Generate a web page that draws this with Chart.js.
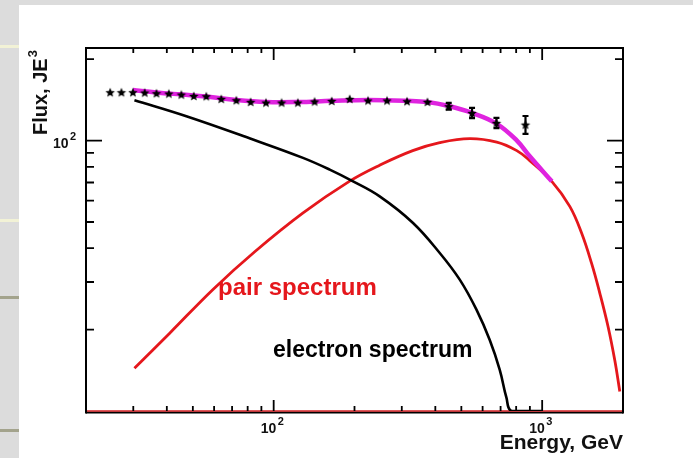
<!DOCTYPE html>
<html lang="en">
<head>
  <meta charset="UTF-8">
  <title>Electron and pair spectra</title>
  <style>
    body { margin: 0; width: 693px; height: 458px; overflow: hidden; position: relative; background: #dcdcdc; }
    .panel { position: absolute; left: 19px; top: 5px; right: 0; bottom: 0; background: #fff; }
    .rule { position: absolute; left: 0; width: 19px; height: 3px; }
    #chart { position: absolute; left: 0; top: 0; }
  </style>
</head>
<body>
  <div class="panel"></div>
  <div class="rule" style="top:45px; background:#f2f2d6"></div>
  <div class="rule" style="top:219px; background:#f2f2d6"></div>
  <div class="rule" style="top:296px; background:#a3a38c"></div>
  <div class="rule" style="top:429px; background:#a3a38c"></div>
  <canvas id="chart" width="693" height="458"></canvas>

  <script src="https://cdn.jsdelivr.net/npm/chart.js"></script>
  <script>
    // measured flux points (E in GeV, flux J*E^3)
    const starEnergy = [24.6, 27.1, 29.9, 33.1, 36.6, 40.7, 45.3, 50.4, 56.1, 63.8, 72.6, 82.1, 93.6,
                        107, 123, 142, 164.5, 192, 224.6, 264.3, 313.8, 374, 448.7, 548, 675.6, 866.7];
    const starFlux = [151.0, 151.0, 151.0, 150.6, 149.7, 149.3, 148.0, 146.3, 145.9, 142.7, 141.0, 139.1, 138.3,
                      138.3, 138.3, 139.5, 140.2, 142.7, 140.7, 140.7, 139.8, 139.1, 134.0, 126.6, 116.3, 114.6];
    const starErr = [0, 0, 0, 0, 0, 0, 0, 0, 0, 0, 0, 0, 0,
                     0, 0, 0, 0, 0, 0, 0, 0, 0, 3.8, 5.5, 5.1, 8.7];

    // electron spectrum
    const electronE = [30.3, 47.3, 83.7, 128.6, 161.7, 197.5, 248.2, 330.4, 415.5, 493.2, 569.2, 637.9, 695, 736, 768.7, 1000];
    const electronF = [141.0, 123.0, 100.9, 86.3, 78.1, 70.7, 62.2, 49.6, 38.4, 30.6, 23.7, 18.3, 14.2, 11.2, 10, 10];

    // pair spectrum
    const pairE = [30.3, 41.0, 59.3, 85.0, 128.3, 191.9, 248.2, 329.6, 415.5, 537.5, 677.3,
                   804.3, 899, 1086, 1267, 1401, 1527, 1639, 1760, 1864, 1946];
    const pairF = [14.4, 19.4, 28.1, 38.8, 53.9, 70.8, 81.1, 91.8, 98.3, 101.7, 98.7,
                   91.8, 84.3, 70.7, 57.1, 45.6, 35.2, 27.3, 20.5, 15.4, 11.8];

    // sum of both components
    const totalE = [29.9, 36.6, 45.3, 56.1, 72.6, 93.6, 123, 164.5, 224.6, 313.8, 374, 448.7, 548, 675.6, 802, 899, 1086];
    const totalF = [153.8, 150.6, 148.0, 145.5, 141.3, 138.9, 138.9, 140.3, 141.3, 140.3, 138.9, 134.2, 126.6, 115.6, 100.4, 87.5, 70.7];

    // axes
    const xRange = [20, 2000];
    const yRange = [10, 220];
    const xMajorTicks = [100, 1000];
    const xMinorTicks = [30, 40, 50, 60, 70, 80, 90, 200, 300, 400, 500, 600, 700, 800, 900];
    const yMajorTicks = [100];
    const yMinorTicks = [20, 30, 40, 50, 60, 70, 80, 90, 200];

    const FONT = '"Liberation Sans", Arial, sans-serif';
    const RED = '#e5171c';

    function pts(xs, ys) {
      return xs.map((x, i) => ({ x: x, y: ys[i] }));
    }

    // filled five-point star used as the marker
    function makeStar(r) {
      const c = document.createElement('canvas');
      const s = Math.ceil(r * 2 + 2);
      c.width = c.height = s;
      const g = c.getContext('2d');
      g.beginPath();
      for (let i = 0; i < 10; i++) {
        const rad = i % 2 ? r * 0.45 : r;
        const a = -Math.PI / 2 + i * Math.PI / 5;
        g.lineTo(s / 2 + rad * Math.cos(a), s / 2 + 0.5 + rad * Math.sin(a));
      }
      g.closePath();
      g.fillStyle = '#000';
      g.fill();
      return c;
    }

    function pow10Label(ctx, v, x, y, size) {
      const exp = String(Math.round(Math.log10(v)));
      ctx.font = 'bold ' + size + 'px ' + FONT;
      ctx.fillText('10', x, y);
      const w = ctx.measureText('10').width;
      ctx.font = 'bold 11px ' + FONT;
      ctx.fillText(exp, x + w + 1.5, y - 8);
    }

    const framePlugin = {
      id: 'frame',
      beforeDatasetsDraw(chart) {
        const { ctx, chartArea: a, scales } = chart;
        const yb = scales.y.getPixelForValue(yRange[0]);
        ctx.save();
        ctx.strokeStyle = '#000';
        ctx.lineWidth = 2;
        ctx.beginPath();
        ctx.moveTo(a.left, yb + 1.4);
        ctx.lineTo(a.right, yb + 1.4);
        ctx.stroke();
        ctx.strokeStyle = '#d42025';
        ctx.lineWidth = 1.6;
        ctx.beginPath();
        ctx.moveTo(a.left, yb);
        ctx.lineTo(a.right, yb);
        ctx.stroke();
        ctx.restore();
      },
      afterDatasetsDraw(chart) {
        const { ctx, chartArea: a, scales } = chart;
        const xs = scales.x, ys = scales.y;
        ctx.save();

        // error bars
        ctx.strokeStyle = '#000';
        ctx.lineWidth = 2.2;
        starEnergy.forEach((e, i) => {
          if (!starErr[i]) return;
          const px = xs.getPixelForValue(e);
          const top = ys.getPixelForValue(starFlux[i] + starErr[i]);
          const bot = ys.getPixelForValue(starFlux[i] - starErr[i]);
          ctx.beginPath();
          ctx.moveTo(px, top); ctx.lineTo(px, bot);
          ctx.moveTo(px - 3, top); ctx.lineTo(px + 3, top);
          ctx.moveTo(px - 3, bot); ctx.lineTo(px + 3, bot);
          ctx.stroke();
        });

        // frame
        ctx.lineWidth = 2;
        ctx.beginPath();
        ctx.moveTo(a.left, a.bottom + 2.4);
        ctx.lineTo(a.left, a.top);
        ctx.lineTo(a.right, a.top);
        ctx.lineTo(a.right, a.bottom + 2.4);
        ctx.stroke();

        // ticks on all four sides, pointing inward
        ctx.lineWidth = 1.8;
        ctx.beginPath();
        xMajorTicks.concat(xMinorTicks).forEach(v => {
          const major = xMajorTicks.includes(v);
          const px = xs.getPixelForValue(v);
          ctx.moveTo(px, a.bottom); ctx.lineTo(px, a.bottom - (major ? 11 : 5));
          ctx.moveTo(px, a.top); ctx.lineTo(px, a.top + (major ? 12 : 5));
        });
        yMajorTicks.concat(yMinorTicks).forEach(v => {
          const major = yMajorTicks.includes(v);
          const py = ys.getPixelForValue(v);
          ctx.moveTo(a.left, py); ctx.lineTo(a.left + (major ? 16 : 8), py);
          ctx.moveTo(a.right, py); ctx.lineTo(a.right - (major ? 16 : 8), py);
        });
        ctx.stroke();

        // tick labels
        ctx.fillStyle = '#111';
        ctx.textAlign = 'left';
        ctx.textBaseline = 'alphabetic';
        xMajorTicks.forEach(v => {
          pow10Label(ctx, v, xs.getPixelForValue(v) - 13, 433, 14);
        });
        yMajorTicks.forEach(v => {
          pow10Label(ctx, v, 53, ys.getPixelForValue(v) + 7, 14);
        });

        // axis titles
        ctx.font = 'bold 21px ' + FONT;
        ctx.textAlign = 'right';
        ctx.fillText('Energy, GeV', a.right, 449);

        ctx.save();
        ctx.translate(47, 135);
        ctx.rotate(-Math.PI / 2);
        ctx.textAlign = 'left';
        ctx.font = 'bold 20px ' + FONT;
        ctx.fillText('Flux, JE', 0, 0);
        const w = ctx.measureText('Flux, JE').width;
        ctx.font = 'bold 13px ' + FONT;
        ctx.fillText('3', w + 1, -10);
        ctx.restore();

        // curve labels
        ctx.textAlign = 'left';
        ctx.font = 'bold 24px ' + FONT;
        ctx.fillStyle = RED;
        ctx.fillText('pair spectrum', 218, 295);
        ctx.font = 'bold 23px ' + FONT;
        ctx.fillStyle = '#000';
        ctx.fillText('electron spectrum', 273, 357);

        ctx.restore();
      }
    };

    const ctx = document.getElementById('chart');
    const chart = new Chart(ctx, {
      type: 'line',
      data: {
        datasets: [
          {
            label: 'data',
            data: pts(starEnergy, starFlux),
            showLine: false,
            pointStyle: makeStar(5),
            pointRadius: 5,
            order: 0
          },
          {
            label: 'total',
            data: pts(totalE, totalF),
            borderColor: '#df23df',
            borderWidth: 4.5,
            pointRadius: 0,
            tension: 0.4,
            order: 1
          },
          {
            label: 'electron spectrum',
            data: pts(electronE, electronF),
            borderColor: '#000',
            borderWidth: 2.6,
            pointRadius: 0,
            tension: 0.4,
            order: 2
          },
          {
            label: 'pair spectrum',
            data: pts(pairE, pairF),
            borderColor: RED,
            borderWidth: 2.8,
            pointRadius: 0,
            tension: 0.4,
            order: 3
          }
        ]
      },
      options: {
        responsive: false,
        animation: false,
        layout: { padding: { left: 86, right: 70, top: 48, bottom: 47 } },
        plugins: {
          legend: { display: false },
          tooltip: { enabled: false }
        },
        scales: {
          x: { type: 'logarithmic', min: xRange[0], max: xRange[1], display: false },
          y: { type: 'logarithmic', min: yRange[0], max: yRange[1], display: false }
        }
      },
      plugins: [framePlugin]
    });
  </script>
</body>
</html>
